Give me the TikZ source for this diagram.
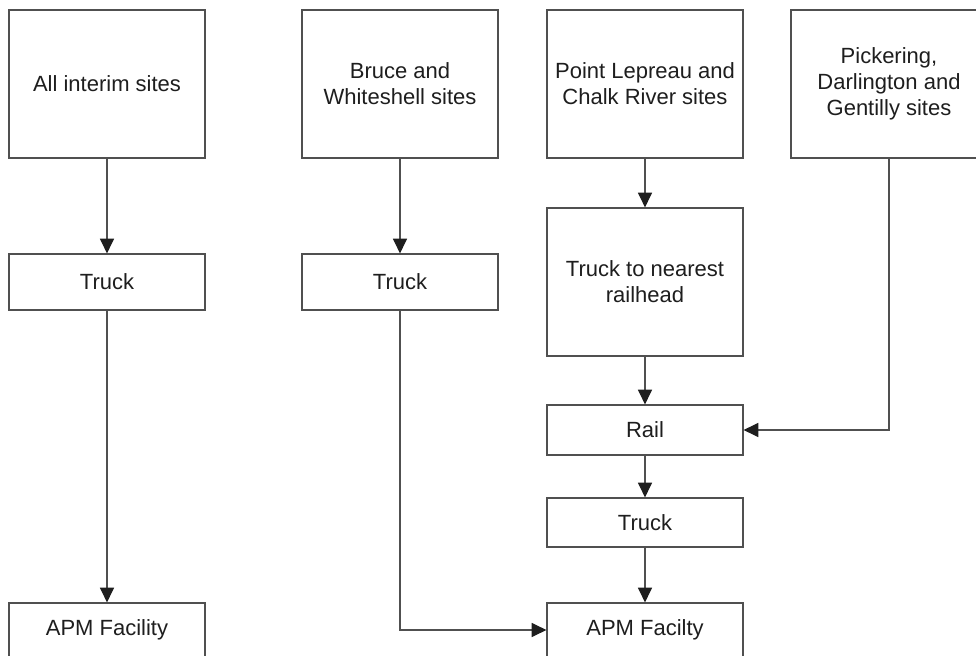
\documentclass[tikz,border=0pt]{standalone}
\usepackage{fontspec}
\setmainfont{Liberation Sans}
\usetikzlibrary{arrows.meta}
\definecolor{linegray}{RGB}{80,80,80}
\definecolor{textdark}{RGB}{30,30,30}
\begin{document}
\begin{tikzpicture}[x=0.75pt,y=-0.75pt,
  box/.style={draw=linegray, line width=0.9pt, fill=white, inner sep=0pt,
    minimum width=147pt, align=center, text=textdark,
    font=\fontsize{16.5pt}{19.5pt}\selectfont},
  tall/.style={box, minimum height=111pt},
  flow/.style={draw=linegray, line width=0.9pt,
    -{Triangle[length=11pt,width=10.5pt,fill=textdark,color=textdark]}}]
\useasboundingbox (0,0) rectangle (976,656);
\clip (0,0) rectangle (976,656);
% top row
\node[tall] (a1) at (107,84) {All interim sites};
\node[tall] (b1) at (400,84) {Bruce and\\Whiteshell sites};
\node[tall] (c1) at (645,84) {Point Lepreau and\\Chalk River sites};
\node[tall] (d1) at (889,84) {Pickering,\\Darlington and\\Gentilly sites};
% second row
\node[box, minimum height=42pt] (a2) at (107,282) {Truck};
\node[box, minimum height=42pt] (b2) at (400,282) {Truck};
\node[tall] (c2) at (645,282) {Truck to nearest\\railhead};
% right column
\node[box, minimum height=37.5pt] (c3) at (645,430) {Rail};
\node[box, minimum height=36.75pt] (c4) at (645,522.5) {Truck};
% bottom
\node[box, minimum height=40.5pt] (a3) at (107,630) {APM Facility};
\node[box, minimum height=40.5pt] (c5) at (645,630) {APM Facilty};
% connectors
\draw[flow] (a1) -- (a2);
\draw[flow] (a2) -- (a3);
\draw[flow] (b1) -- (b2);
\draw[flow] (b2.south) |- (c5.west);
\draw[flow] (c1) -- (c2);
\draw[flow] (c2) -- (c3);
\draw[flow] (c3) -- (c4);
\draw[flow] (c4) -- (c5);
\draw[flow] (d1.south) |- (c3.east);
\end{tikzpicture}
\end{document}
